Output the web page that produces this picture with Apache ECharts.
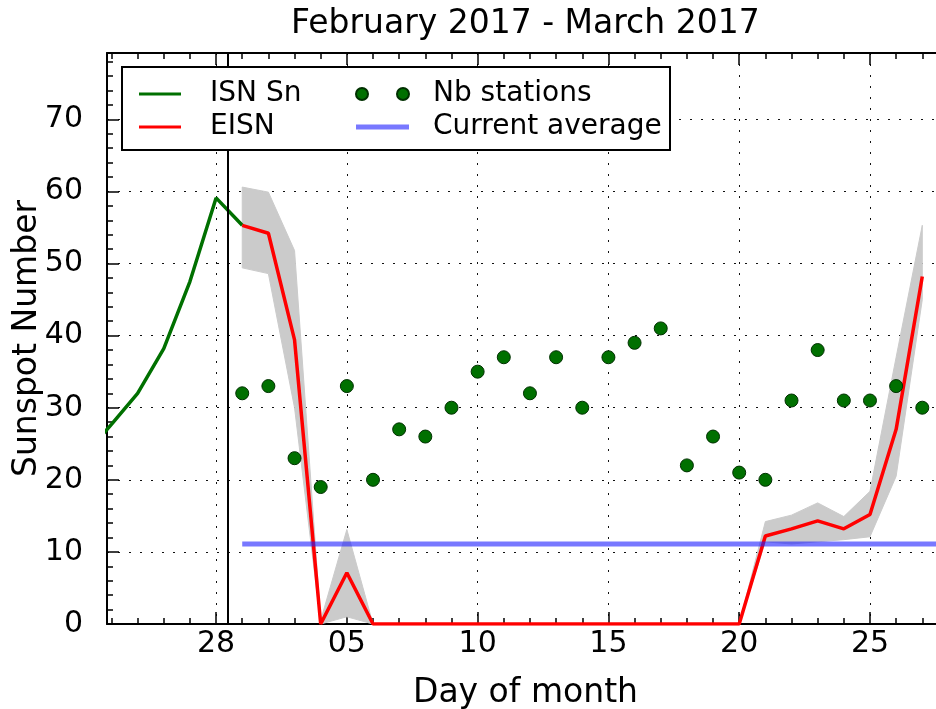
<!DOCTYPE html>
<html>
<head>
<meta charset="utf-8">
<script src="https://cdn.jsdelivr.net/npm/echarts@6/dist/echarts.min.js"></script>
<style>
  html, body { margin: 0; padding: 0; background: #fff; }
  #chart { width: 936px; height: 709px; }
</style>
</head>
<body>
<div id="chart"></div>
<script>
// days counted from 28 Feb (0) -> 1..27 are 1-27 March
var isnDays = [-5, -4, -3, -2, -1, 0, 1];
var isnValues = [23.5, 27.7, 32.0, 38.2, 47.5, 59.1, 55.3];

var days = [1, 2, 3, 4, 5, 6, 7, 8, 9, 10, 11, 12, 13, 14, 15, 16, 17, 18, 19, 20, 21, 22, 23, 24, 25, 26, 27];
var eisn = [55.3, 54.2, 39.4, 0, 7.1, 0, 0, 0, 0, 0, 0, 0, 0, 0, 0, 0, 0, 0, 0, 0, 12.2, 13.2, 14.3, 13.2, 15.2, 27.0, 48.2];
var eisnLow = [49.4, 48.6, 30.0, 0, 1.0, 0, 0, 0, 0, 0, 0, 0, 0, 0, 0, 0, 0, 0, 0, 0, 11.4, 11.1, 11.4, 11.7, 12.1, 20.5, 45.0];
var eisnHigh = [60.6, 59.9, 51.8, 0.5, 13.1, 0, 0, 0, 0, 0, 0, 0, 0, 0, 0, 0, 0, 0, 0, 0, 14.2, 15.1, 16.8, 14.9, 18.4, 37.0, 55.3];
var stations = [32, 33, 23, 19, 33, 20, 27, 26, 30, 35, 37, 32, 37, 30, 37, 39, 41, 22, 26, 21, 20, 31, 38, 31, 31, 33, 30];

var avgDays = [1, 28];
var avgValue = 11.1;
var nowDay = 0.44;

var majorDays = [0, 5, 10, 15, 20, 25];
var minorDays = [-4, -3, -2, -1, 0, 1, 2, 3, 4, 5, 6, 7, 8, 9, 10, 11, 12, 13, 14, 15, 16, 17, 18, 19, 20, 21, 22, 23, 24, 25, 26, 27];
var minorY = [0, 2, 4, 6, 8, 10, 12, 14, 16, 18, 20, 22, 24, 26, 28, 30, 32, 34, 36, 38, 40, 42, 44, 46, 48, 50, 52, 54, 56, 58, 60, 62, 64, 66, 68, 70, 72, 74, 76, 78];

var xMin = -4.17, xMax = 27.83;
var yMax = 79.2;

function dayLabel(v) {
  if (v <= 0) return String(28 + v);
  return v < 10 ? '0' + v : String(v);
}

var font = 'DejaVu Sans';
var dotted = { color: '#111', width: 1, type: [2, 9] };
var tickStyle = { color: '#000', width: 1.5 };

// grey uncertainty band: one polygon, upper edge forward then lower edge back
function renderBand(params, api) {
  if (params.dataIndex !== 0) return;
  var pts = [];
  for (var i = 0; i < days.length; i++) pts.push(api.coord([days[i], eisnHigh[i]]));
  for (var j = days.length - 1; j >= 0; j--) pts.push(api.coord([days[j], eisnLow[j]]));
  return {
    type: 'polygon',
    shape: { points: pts },
    style: { fill: '#cbcbcb', stroke: '#cbcbcb', lineWidth: 1 }
  };
}

function plainX(pos, ticks, len, showLine) {
  return {
    type: 'value', position: pos, min: xMin, max: xMax,
    axisLine: { show: showLine, onZero: false, lineStyle: { color: '#000', width: 2 } },
    axisTick: { show: true, inside: true, length: len, customValues: ticks, lineStyle: tickStyle },
    axisLabel: { show: false },
    splitLine: { show: false }
  };
}

var chart = echarts.init(document.getElementById('chart'));

var option = {
  animation: false,
  backgroundColor: '#fff',
  title: {
    text: 'February 2017 - March 2017',
    left: 286, top: 3,
    textStyle: { fontFamily: font, fontSize: 33, fontWeight: 'normal', color: '#000' }
  },
  grid: { left: 107, right: -8, top: 53, bottom: 85, outerBoundsMode: 'none', containLabel: false },
  legend: [
    {
      orient: 'vertical', left: 134, top: 74, z: 101,
      itemWidth: 42, itemHeight: 12, itemGap: 3,
      data: [
        { name: 'ISN Sn', icon: 'path://M0,0L42,0L42,3L0,3Z' },
        { name: 'EISN', icon: 'path://M0,0L42,0L42,3L0,3Z' }
      ],
      textStyle: { fontFamily: font, fontSize: 28, color: '#000', lineHeight: 30, padding: [0, 0, 0, 24] }
    },
    {
      orient: 'vertical', left: 350, top: 74, z: 101,
      itemWidth: 53, itemHeight: 12, itemGap: 3,
      data: [
        { name: 'Nb stations', icon: 'path://M0,6a6,6 0 1,0 12,0a6,6 0 1,0 -12,0zM41,6a6,6 0 1,0 12,0a6,6 0 1,0 -12,0z' },
        { name: 'Current average', icon: 'path://M0,0L53,0L53,5L0,5Z' }
      ],
      textStyle: { fontFamily: font, fontSize: 28, color: '#000', lineHeight: 30, padding: [0, 0, 0, 19] }
    }
  ],
  graphic: [{
    type: 'rect', z: 100,
    shape: { x: 122, y: 67, width: 548, height: 83 },
    style: { fill: '#fff', stroke: '#000', lineWidth: 2 }
  }],
  xAxis: [
    {
      type: 'value', position: 'bottom', min: xMin, max: xMax,
      name: 'Day of month', nameLocation: 'middle', nameGap: 53,
      nameTextStyle: { fontFamily: font, fontSize: 33, color: '#000' },
      axisLine: { show: true, onZero: false, lineStyle: { color: '#000', width: 2 } },
      axisTick: { show: true, inside: true, length: 12, customValues: majorDays, lineStyle: tickStyle },
      axisLabel: { customValues: majorDays, formatter: dayLabel, margin: 5, fontFamily: font, fontSize: 30, color: '#000' },
      splitLine: { show: true, lineStyle: dotted }
    },
    plainX('bottom', minorDays, 6, false),
    plainX('top', majorDays, 12, true),
    plainX('top', minorDays, 6, false)
  ],
  yAxis: [
    {
      type: 'value', position: 'left', min: 0, max: yMax, interval: 10,
      name: 'Sunspot Number', nameLocation: 'middle', nameGap: 63, nameMoveOverlap: false,
      nameTextStyle: { fontFamily: font, fontSize: 33, color: '#000' },
      axisLine: { show: true, onZero: false, lineStyle: { color: '#000', width: 2 } },
      axisTick: { show: true, inside: true, length: 12, lineStyle: tickStyle },
      axisLabel: { showMaxLabel: false, margin: 24, fontFamily: font, fontSize: 30, color: '#000' },
      splitLine: { show: true, showMaxLine: false, lineStyle: dotted }
    },
    {
      type: 'value', position: 'left', min: 0, max: yMax,
      axisLine: { show: false, onZero: false },
      axisTick: { show: true, inside: true, length: 6, customValues: minorY, lineStyle: tickStyle },
      axisLabel: { show: false },
      splitLine: { show: false }
    }
  ],
  series: [
    {
      name: 'band', type: 'custom', renderItem: renderBand, silent: true, clip: true, z: 1,
      data: days.map(function (d, i) { return [d, eisnLow[i], eisnHigh[i]]; }),
      encode: { x: 0, y: [1, 2] }
    },
    {
      name: 'ISN Sn', type: 'line', symbol: 'none', z: 3,
      lineStyle: { color: '#007000', width: 3.5 }, itemStyle: { color: '#007000' },
      data: isnDays.map(function (d, i) { return [d, isnValues[i]]; }),
      markLine: {
        symbol: 'none', silent: true, label: { show: false },
        lineStyle: { color: '#000', width: 2, type: 'solid' },
        data: [{ xAxis: nowDay }]
      }
    },
    {
      name: 'EISN', type: 'line', symbol: 'none', z: 3,
      lineStyle: { color: '#ff0000', width: 3.5 }, itemStyle: { color: '#ff0000' },
      data: days.map(function (d, i) { return [d, eisn[i]]; })
    },
    {
      name: 'Nb stations', type: 'scatter', symbol: 'circle', symbolSize: 13, z: 4,
      itemStyle: { color: '#007000', borderColor: '#003000', borderWidth: 1, opacity: 1 },
      data: days.map(function (d, i) { return [d, stations[i]]; })
    },
    {
      name: 'Current average', type: 'line', symbol: 'none', z: 5,
      lineStyle: { color: 'rgba(30,30,255,0.6)', width: 5 }, itemStyle: { color: 'rgba(30,30,255,0.6)' },
      data: avgDays.map(function (d) { return [d, avgValue]; })
    }
  ]
};

chart.setOption(option);
</script>
</body>
</html>
